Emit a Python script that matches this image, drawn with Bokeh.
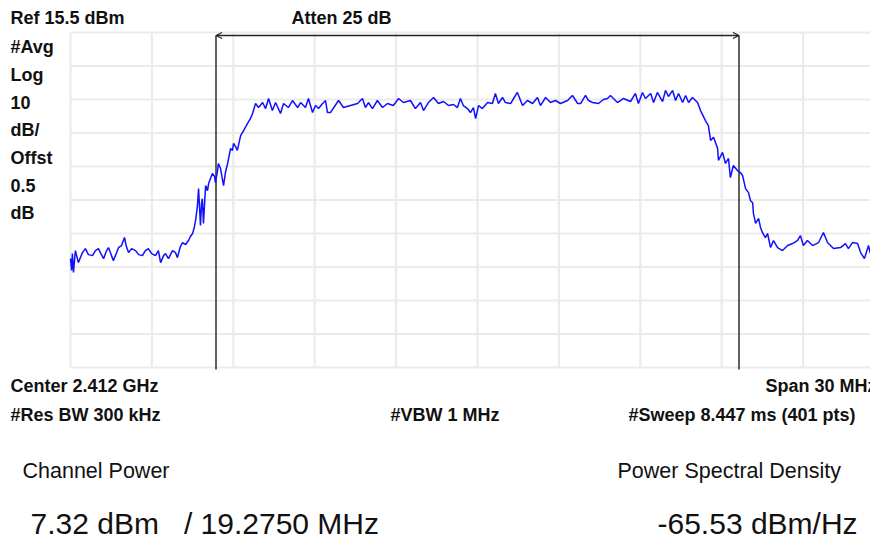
from bokeh.plotting import figure
from bokeh.models import Label, Arrow, OpenHead, Range1d, ColumnDataSource
from bokeh.embed import file_html
from bokeh.resources import INLINE

# ---------------- instrument settings ----------------
center_ghz = 2.412
span_mhz = 30
ref_level_dbm = 15.5
db_per_div = 10
n_div = 10
channel_bw_mhz = 19.275

# ---------------- trace (frequency offset from start, MHz / level, dBm) ----------------
sweep_mhz = [
    0.00, 0.04, 0.07, 0.11, 0.18, 0.29, 0.44, 0.55, 0.66, 0.81, 0.92, 1.03, 1.14, 1.22, 1.33, 1.40,
    1.51, 1.58, 1.70, 1.77, 1.88, 1.99, 2.06, 2.14, 2.25, 2.40, 2.51, 2.65, 2.76, 2.87, 2.99, 3.13,
    3.24, 3.32, 3.43, 3.50, 3.61, 3.76, 3.87, 3.94, 4.05, 4.13, 4.24, 4.35, 4.42, 4.50, 4.57, 4.61,
    4.68, 4.72, 4.79, 4.83, 4.86, 4.90, 4.98, 5.05, 5.09, 5.16, 5.23, 5.31, 5.34, 5.42, 5.45, 5.53,
    5.64, 5.71, 5.79, 5.90, 5.97, 6.01, 6.08, 6.15, 6.27, 6.38, 6.52, 6.63, 6.71, 6.82, 6.93, 7.08,
    7.19, 7.30, 7.44, 7.56, 7.74, 7.85, 8.03, 8.18, 8.37, 8.48, 8.66, 8.77, 8.92, 9.03, 9.14, 9.29,
    9.40, 9.47, 9.58, 9.73, 9.88, 10.06, 10.32, 10.58, 10.76, 10.87, 10.98, 11.13, 11.31, 11.50, 11.68, 11.90,
    12.09, 12.27, 12.53, 12.71, 12.90, 13.01, 13.19, 13.38, 13.56, 13.75, 13.93, 14.12, 14.26, 14.37, 14.48, 14.63,
    14.74, 14.85, 14.93, 15.04, 15.18, 15.37, 15.55, 15.66, 15.77, 15.92, 16.03, 16.22, 16.33, 16.47, 16.66, 16.84,
    17.03, 17.21, 17.32, 17.51, 17.69, 17.87, 18.06, 18.32, 18.50, 18.69, 18.80, 18.98, 19.09, 19.24, 19.46, 19.64,
    19.79, 19.90, 20.16, 20.38, 20.64, 20.82, 20.93, 21.08, 21.19, 21.38, 21.49, 21.63, 21.82, 21.93, 22.04, 22.19,
    22.30, 22.41, 22.56, 22.67, 22.78, 22.92, 23.11, 23.22, 23.33, 23.40, 23.51, 23.59, 23.70, 23.85, 23.88, 24.03,
    24.14, 24.25, 24.32, 24.43, 24.58, 24.69, 24.77, 24.88, 24.99, 25.06, 25.14, 25.17, 25.25, 25.36, 25.43, 25.50,
    25.61, 25.69, 25.80, 25.91, 26.06, 26.24, 26.43, 26.61, 26.79, 26.90, 27.01, 27.16, 27.35, 27.57, 27.75, 27.90,
    28.12, 28.38, 28.56, 28.67, 28.82, 29.01, 29.12, 29.26, 29.41, 29.48,
]
level_dbm = [
    -52.0, -55.5, -50.5, -56.1, -49.6, -53.2, -50.2, -49.0, -50.8, -51.1, -49.6, -49.0, -50.8, -52.0, -49.6, -48.7,
    -51.1, -52.6, -50.2, -48.7, -48.1, -45.7, -48.4, -50.2, -49.0, -49.6, -50.8, -51.1, -49.6, -49.0, -50.5, -51.1,
    -49.6, -53.2, -51.1, -50.5, -52.0, -49.6, -50.2, -51.7, -48.4, -47.2, -47.8, -46.6, -45.4, -44.5, -42.4, -40.6,
    -36.1, -31.1, -42.1, -35.5, -34.1, -41.5, -30.2, -31.7, -29.6, -28.1, -26.6, -27.5, -29.3, -25.7, -23.6, -25.1,
    -30.2, -26.3, -23.6, -19.1, -19.7, -17.6, -18.5, -19.7, -15.3, -13.8, -11.7, -10.2, -8.7, -5.7, -6.9, -5.4,
    -7.2, -4.2, -7.8, -5.4, -8.7, -5.7, -6.9, -4.8, -6.9, -5.4, -6.9, -4.2, -8.4, -6.3, -7.2, -5.7,
    -4.8, -8.4, -8.4, -6.6, -4.8, -6.9, -6.3, -5.7, -4.2, -6.9, -5.4, -7.2, -4.8, -6.9, -5.7, -6.3,
    -4.2, -5.4, -4.8, -7.2, -5.4, -7.8, -5.4, -3.9, -5.7, -5.1, -6.3, -6.0, -6.9, -4.2, -6.3, -7.2,
    -8.4, -6.9, -10.2, -6.3, -7.2, -5.4, -5.7, -2.7, -5.7, -3.9, -5.4, -5.7, -4.2, -2.4, -6.3, -4.8,
    -5.7, -3.9, -6.3, -3.9, -5.4, -4.8, -5.7, -4.8, -3.3, -5.7, -5.7, -3.3, -4.8, -5.4, -5.7, -4.5,
    -4.2, -3.3, -5.4, -4.2, -5.1, -2.7, -5.7, -2.4, -4.2, -2.7, -5.4, -2.4, -5.1, -1.8, -3.6, -1.8,
    -4.8, -2.7, -5.4, -3.3, -5.4, -3.9, -5.4, -7.8, -9.6, -10.8, -12.3, -16.7, -15.8, -19.1, -22.7, -20.3,
    -23.6, -22.1, -27.8, -24.2, -25.7, -26.3, -27.2, -31.1, -32.3, -34.7, -35.3, -38.5, -41.5, -40.0, -42.7, -44.2,
    -45.7, -44.5, -48.7, -46.6, -48.7, -49.6, -48.1, -47.5, -46.6, -45.1, -48.1, -46.6, -48.1, -47.2, -44.2, -47.2,
    -49.0, -48.7, -47.5, -49.0, -47.2, -47.5, -50.2, -52.0, -48.1, -50.5,
]

# ---------------- annotation texts ----------------
header_left = ["Ref 15.5 dBm", "#Avg", "Log", "10", "dB/", "Offst", "0.5", "dB"]
atten_text = "Atten 25 dB"
footer_row1 = ["Center 2.412 GHz", "Span 30 MHz"]
footer_row2 = ["#Res BW 300 kHz", "#VBW 1 MHz", "#Sweep 8.447 ms (401 pts)"]
result_titles = ["Channel Power", "Power Spectral Density"]
result_values = ["7.32 dBm\u00a0\u00a0 / 19.2750 MHz", "-65.53 dBm/Hz"]

# ---------------- layout (pixels) ----------------
W, H = 870, 540
GRID_L, GRID_T = 70, 32           # pixel position of the graticule's top-left corner
PX_PER_DIV_X = 81.4
PX_PER_DIV_Y = 33.5
mhz_per_px = (span_mhz / n_div) / PX_PER_DIV_X
db_per_px = db_per_div / PX_PER_DIV_Y
bottom_dbm = ref_level_dbm - db_per_div * n_div

# the frame covers the whole canvas, so texts around the graticule are never clipped
x_range = Range1d(-GRID_L * mhz_per_px, (W - GRID_L) * mhz_per_px)
y_range = Range1d(ref_level_dbm - (H - GRID_T) * db_per_px, ref_level_dbm + GRID_T * db_per_px)

p = figure(width=W, height=H, output_backend="svg", toolbar_location=None,
           x_range=x_range, y_range=y_range,
           x_axis_location=None, y_axis_location=None,
           min_border=0)
p.outline_line_color = None
p.background_fill_color = "white"
p.border_fill_color = "white"
p.xgrid.visible = False
p.ygrid.visible = False

def dx(sx):
    return (sx - GRID_L) * mhz_per_px

def dy(sy):
    return ref_level_dbm - (sy - GRID_T) * db_per_px

# graticule
gx = [i * span_mhz / n_div for i in range(n_div + 1)]
gy = [ref_level_dbm - i * db_per_div for i in range(n_div + 1)]
p.segment(x0=gx, y0=[bottom_dbm] * len(gx), x1=gx, y1=[ref_level_dbm] * len(gx),
          line_color="#ebebeb", line_width=2.2)
p.segment(x0=[0] * len(gy), y0=gy, x1=[span_mhz] * len(gy), y1=gy,
          line_color="#ebebeb", line_width=2.2)

# channel markers
ch_lo = span_mhz / 2 - channel_bw_mhz / 2
ch_hi = span_mhz / 2 + channel_bw_mhz / 2
arrow_y = dy(35)
p.segment(x0=[ch_lo, ch_hi], y0=[dy(369), dy(369)], x1=[ch_lo, ch_hi], y1=[arrow_y, arrow_y],
          line_color="#3a3a3a", line_width=1.6)
p.add_layout(Arrow(x_start=ch_lo, y_start=arrow_y, x_end=ch_hi, y_end=arrow_y,
                   line_color="#222222", line_width=1.3,
                   start=OpenHead(size=6, line_color="#222222", line_width=1.2),
                   end=OpenHead(size=6, line_color="#222222", line_width=1.2)))

# trace
src = ColumnDataSource(data=dict(f=sweep_mhz, lvl=level_dbm))
p.line("f", "lvl", source=src, line_color="#1010ff", line_width=1.5)

FONT = "Liberation Sans"

def lab(text, sx, baseline, size, bold=True, align="left"):
    # place by the text's visual middle (baseline minus ~0.35 em)
    p.add_layout(Label(x=dx(sx), y=dy(baseline - 0.35 * size), text=text, text_font=FONT,
                       text_font_size=f"{size}px", text_font_style="bold" if bold else "normal",
                       text_color="#111111", text_baseline="middle", text_align=align))

lab(header_left[0], 10, 24, 18)
for i, t in enumerate(header_left[1:]):
    lab(t, 10, 53 + i * 27.7, 18)
lab(atten_text, 291, 24, 18)

lab(footer_row1[0], 10, 392, 18)
lab(footer_row1[1], 765, 392, 18)
lab(footer_row2[0], 10, 421, 18)
lab(footer_row2[1], 390, 421, 18)
lab(footer_row2[2], 628, 421, 18)

lab(result_titles[0], 22, 478, 21.5, bold=False)
lab(result_titles[1], 617, 478, 21.5, bold=False)
lab(result_values[0], 30, 533, 30, bold=False)
lab(result_values[1], 657, 533, 30, bold=False)

open("out.html", "w").write(file_html(p, INLINE))
